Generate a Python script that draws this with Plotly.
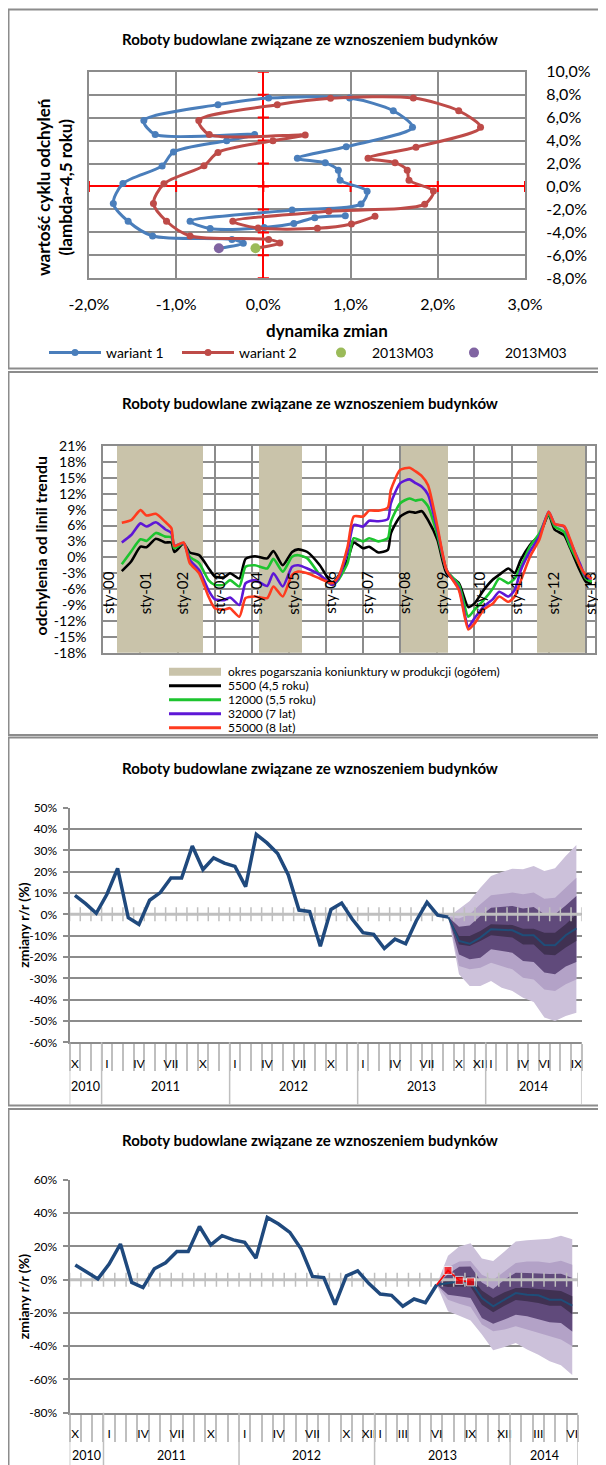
import pandas as pd
import plotly.graph_objects as go

# The page body has an 8 px default margin: the figure is sized so that it fills the
# 606x1465 window exactly, and positions below are given in window pixels.
OFF = 8
W, H = 606 - OFF, 1465 - OFF


def fx(px):
    return (px - OFF) / W


def fy(py):
    return 1 - (py - OFF) / H


FONT = "Lato, 'Open Sans', sans-serif"
GRID = "#8C8C8C"
LIGHT = "#BFBFBF"
TITLE = "Roboty budowlane związane ze wznoszeniem budynków"

# ---------------- Panel 1 : phase plot ----------------
P1_XTICKS = [-2, -1, 0, 1, 2, 3]
P1_YTICKS = [-8, -6, -4, -2, 0, 2, 4, 6, 8, 10]
W1_X = [0.94, 0.59, 0.35, 0.01, -0.61, -0.84, 0.33, 1.12, 1.19, 0.88, 0.86, 0.71, 0.39, 0.95, 1.71, 1.49,
        0.99, 0.06, -0.52, -1.37, -1.24, -0.10, -0.42, -1.03, -1.16, -1.61, -1.72, -1.55, -1.27, -0.36,
        -0.23, -0.51]
W1_Y = [-2.56, -2.72, -3.22, -3.58, -3.66, -3.03, -2.06, -1.52, -0.41, 0.55, 1.41, 2.06, 2.45, 3.46, 5.15,
        6.60, 7.70, 7.70, 7.13, 5.74, 4.53, 4.53, 3.99, 3.00, 1.79, 0.25, -1.48, -3.03, -4.31, -4.61,
        -4.95, -5.38]
W2_X = [1.28, 1.01, 0.62, -0.06, -0.35, 0.75, 1.85, 1.95, 1.67, 1.65, 1.51, 1.20, 1.75, 2.49, 2.24, 1.72,
        0.77, 0.16, -0.74, -0.62, 0.48, 0.11, -0.52, -0.68, -1.14, -1.26, -1.11, -0.84, 0.06, 0.19, -0.09]
W2_Y = [-2.60, -3.27, -3.65, -3.62, -3.03, -2.16, -1.54, -0.40, 0.55, 1.42, 2.07, 2.47, 3.42, 5.15, 6.60,
        7.70, 7.68, 7.12, 5.75, 4.52, 4.48, 3.99, 2.97, 1.81, 0.23, -1.48, -3.03, -4.31, -4.61, -4.93, -5.38]
P1_NAMES = ["wariant 1", "wariant 2", "2013M03", "2013M03"]

# ---------------- Panel 2 : cycle deviations ----------------
P2_DATES = ["2000-07", "2000-10", "2001-01", "2001-03", "2001-06", "2001-09", "2001-11", "2001-12",
            "2002-03", "2002-05", "2002-08", "2002-11", "2003-01", "2003-04", "2003-06", "2003-09",
            "2003-11", "2004-02", "2004-06", "2004-08", "2004-11", "2005-02", "2005-04", "2005-07",
            "2005-11", "2006-03", "2006-05", "2006-08", "2006-10", "2007-01", "2007-03", "2007-06",
            "2007-09", "2007-10", "2008-01", "2008-04", "2008-06", "2008-08", "2008-10", "2009-01",
            "2009-04", "2009-08", "2009-11", "2010-01", "2010-04", "2010-07", "2010-09", "2010-12",
            "2011-02", "2011-04", "2011-07", "2011-10", "2012-01", "2012-03", "2012-06", "2012-08",
            "2012-11", "2013-01", "2013-03"]
P2_BLACK = [-2.6, -0.8, 2.0, 1.9, 3.5, 2.8, 2.8, 1.0, 2.6, 0.9, 0.4, -2.0, -3.6, -3.8, -3.0, -4.0, -0.3,
            0.2, -0.2, 1.2, -1.5, 1.0, 1.5, 1.0, -1.5, -4.9, -3.6, -0.5, 2.8, 1.7, 2.0, 0.9, 1.4, 4.5, 7.7,
            8.6, 8.4, 8.7, 7.0, 3.3, -3.0, -4.9, -9.4, -8.7, -6.2, -4.2, -3.3, -2.1, -3.0, -0.5, 2.3, 4.2,
            8.0, 5.2, 4.2, 1.7, -2.4, -4.6, -4.9]
P2_GREEN = [-1.3, 1.1, 3.4, 3.1, 4.6, 3.9, 3.8, 1.7, 2.7, 0.1, -1.1, -4.3, -5.2, -5.2, -4.3, -5.5, -1.8,
            -1.5, -2.1, -0.3, -2.7, 0.1, 0.4, -0.2, -3.3, -5.2, -4.3, -1.1, 3.6, 3.0, 3.6, 3.0, 3.6, 6.7,
            10.2, 11.1, 10.7, 10.9, 9.6, 4.2, -2.4, -5.2, -11.2, -9.9, -8.1, -5.9, -4.0, -4.9, -4.0, -1.8,
            2.0, 4.5, 8.1, 5.8, 4.8, 2.0, -1.5, -4.0, -4.6]
P2_PURPLE = [2.8, 4.2, 6.4, 5.8, 6.6, 5.3, 4.6, 2.2, 2.7, -0.5, -2.4, -6.2, -7.9, -8.1, -7.6, -9.0, -4.9,
             -4.3, -5.4, -3.0, -5.5, -1.8, -1.5, -2.1, -3.3, -5.2, -4.0, 1.1, 6.1, 5.8, 6.9, 6.8, 7.2, 10.2,
             14.0, 14.7, 14.0, 13.3, 11.8, 5.2, -2.4, -5.9, -13.1, -11.5, -9.3, -7.9, -6.5, -7.4, -6.2,
             -2.5, 1.1, 3.9, 8.6, 6.3, 5.8, 3.0, -1.1, -3.7, -4.0]
P2_RED = [6.5, 7.0, 8.9, 7.9, 8.2, 6.7, 5.5, 2.1, 2.8, -1.1, -3.0, -7.4, -9.6, -9.9, -9.6, -11.2, -7.7,
          -7.4, -7.7, -5.5, -7.4, -3.3, -2.7, -3.0, -4.0, -4.9, -3.7, 2.0, 7.7, 7.7, 8.8, 8.8, 9.4, 12.7,
          16.5, 16.9, 16.2, 15.3, 13.6, 5.8, -2.4, -6.2, -13.6, -12.5, -9.9, -8.7, -7.4, -8.4, -7.4, -4.5,
          0.1, 3.3, 8.6, 6.3, 5.9, 3.3, -1.5, -3.3, -4.0]
P2_NAMES = ["5500 (4,5 roku)", "12000 (5,5 roku)", "32000 (7 lat)", "55000 (8 lat)"]
P2_COLORS = ["#000000", "#1DC42F", "#5E17D6", "#FF3B1F"]
BAND_NAME = "okres pogarszania koniunktury w produkcji (ogółem)"
BAND_START = ["2000-05-15", "2004-03-15", "2008-01-15", "2011-09-15"]
BAND_END = ["2002-09-15", "2005-05-15", "2009-04-15", "2012-12-31"]
P2_YEARS = list(range(2000, 2014))
P2_TICKLABELS = ["sty-%02d" % (y % 100) for y in P2_YEARS]
P2_YTICKS = list(range(-18, 22, 3))

# ---------------- Panels 3 & 4 : fan charts ----------------
ROMAN = ["I", "II", "III", "IV", "V", "VI", "VII", "VIII", "IX", "X", "XI", "XII"]
START_YEAR, START_MONTH = 2010, 10
ACTUAL = [8.9, 5.0, 0.5, 9.4, 21.5, -1.6, -4.7, 6.6, 10.2, 17.0, 17.0, 32.0, 21.0, 26.5, 24.0, 22.5, 13.0,
          37.5, 33.5, 28.5, 18.5, 2.0, 1.3, -15.0, 2.3, 5.3, -2.3, -8.6, -9.4, -16.0, -11.6, -13.8, -3.0,
          5.6, -0.4, -1.3]

P3_N = 48
P3_TICK_IDX = [0, 3, 6, 9, 12, 15, 18, 21, 24, 27, 30, 33, 36, 38, 39, 42, 44, 47]
P3_FAN_START = 35
P3_CENTER = [-1.3, -12.5, -13.8, -10.9, -7.0, -7.3, -7.5, -9.8, -9.8, -14.4, -14.5, -9.8, -6.6]
P3_U3 = [-1.3, 2.3, 6.3, 12.5, 18.0, 19.8, 21.4, 21.1, 22.7, 20.3, 21.6, 27.3, 32.5]
P3_U2 = [-1.3, -2.0, 0.0, 4.7, 8.9, 9.7, 10.2, 9.4, 10.2, 7.3, 7.8, 12.5, 17.2]
P3_U1 = [-1.3, -5.8, -5.2, -0.8, 3.1, 3.6, 3.9, 2.7, 3.4, 0.0, 0.0, 4.2, 8.6]
P3_U0 = [-1.3, -10.2, -10.2, -7.8, -4.7, -4.7, -5.0, -6.7, -6.7, -8.6, -8.6, -4.7, 0.0]
P3_L0 = [-1.3, -14.1, -14.8, -12.5, -9.8, -10.2, -10.9, -14.1, -14.1, -18.8, -19.2, -15.6, -12.5]
P3_L1 = [-1.3, -18.8, -21.1, -20.3, -16.4, -17.2, -18.0, -21.9, -22.3, -27.3, -28.1, -24.5, -22.3]
P3_L2 = [-1.3, -24.2, -25.8, -25.0, -22.7, -24.2, -25.8, -29.7, -30.5, -35.2, -35.9, -32.8, -30.5]
P3_L3 = [-1.3, -28.1, -33.6, -33.6, -31.3, -34.4, -35.9, -39.1, -41.1, -48.4, -50.0, -47.7, -46.1]
P3_YTICKS = list(range(-60, 51, 10))

P4_N = 45
P4_TICK_IDX = [0, 3, 6, 9, 12, 15, 18, 21, 24, 26, 27, 29, 32, 35, 38, 41, 44]
P4_FAN_START = 32
P4_CENTER = [-3.0, -2.0, -1.0, -1.0, -11.0, -16.0, -12.0, -8.0, -9.0, -9.4, -12.0, -12.0, -15.6]
P4_U3 = [-3.0, 14.5, 20.0, 22.0, 12.7, 11.3, 17.0, 23.0, 23.8, 24.4, 24.7, 26.4, 24.4]
P4_U2 = [-3.0, 7.5, 11.0, 11.2, 3.0, 0.0, 5.0, 10.0, 11.0, 11.0, 10.0, 11.4, 9.0]
P4_U1 = [-3.0, 3.4, 7.8, 8.0, -1.6, -5.6, 0.0, 4.2, 4.0, 3.6, 3.4, 3.6, 1.0]
P4_U0 = [-3.0, 0.0, 2.0, 2.0, -6.5, -11.0, -7.5, -5.0, -5.0, -5.5, -6.4, -6.8, -10.0]
P4_L0 = [-3.0, -4.4, -4.0, -4.4, -15.0, -19.5, -15.6, -12.2, -13.0, -14.0, -15.6, -15.6, -20.7]
P4_L1 = [-3.0, -9.0, -10.0, -11.0, -23.0, -26.5, -24.0, -21.0, -22.0, -23.6, -25.6, -26.0, -31.2]
P4_L2 = [-3.0, -12.0, -14.4, -16.4, -27.0, -31.0, -30.0, -28.0, -30.0, -32.0, -34.0, -36.0, -40.0]
P4_L3 = [-3.0, -19.0, -21.6, -24.5, -33.0, -42.4, -40.5, -38.0, -42.0, -45.2, -49.0, -51.5, -57.3]
P4_YTICKS = list(range(-80, 61, 20))

FAN_COLORS = ["#CCC1DA", "#B3A2C7", "#604A7B", "#403152"]


def ym(i):
    k = START_MONTH - 1 + i
    return START_YEAR + k // 12, k % 12 + 1


def pct(v, dec=0):
    s = ("%." + str(dec) + "f") % v
    return s.replace(".", ",") + "%"


fig = go.Figure()
annotations = []
shapes = []

# ======== Panel 1 ========
fig.add_trace(go.Scatter(x=[0] * len(P1_YTICKS), y=P1_YTICKS, mode="markers", xaxis="x", yaxis="y",
                         marker=dict(symbol="line-ew", size=8, line=dict(color="#FF0000", width=2)),
                         showlegend=False, hoverinfo="skip"))
fig.add_trace(go.Scatter(x=P1_XTICKS, y=[0] * len(P1_XTICKS), mode="markers", xaxis="x", yaxis="y",
                         marker=dict(symbol="line-ns", size=8, line=dict(color="#FF0000", width=2)),
                         showlegend=False, hoverinfo="skip"))
fig.add_trace(go.Scatter(x=W1_X, y=W1_Y, name=P1_NAMES[0], mode="lines+markers", xaxis="x", yaxis="y",
                         line=dict(color="#4A7EBB", width=3, shape="spline", smoothing=0.8),
                         marker=dict(size=7, color="#4A7EBB"), legend="legend"))
fig.add_trace(go.Scatter(x=W2_X, y=W2_Y, name=P1_NAMES[1], mode="lines+markers", xaxis="x", yaxis="y",
                         line=dict(color="#BE4B48", width=3, shape="spline", smoothing=0.8),
                         marker=dict(size=7, color="#BE4B48"), legend="legend"))
fig.add_trace(go.Scatter(x=W2_X[-1:], y=W2_Y[-1:], name=P1_NAMES[2], mode="markers", xaxis="x", yaxis="y",
                         marker=dict(size=10, color="#9BBB59"), legend="legend"))
fig.add_trace(go.Scatter(x=W1_X[-1:], y=W1_Y[-1:], name=P1_NAMES[3], mode="markers", xaxis="x", yaxis="y",
                         marker=dict(size=10, color="#8064A2"), legend="legend"))

# ======== Panel 2 ========
starts = pd.to_datetime(BAND_START)
ends = pd.to_datetime(BAND_END)
mids = [s + (e - s) / 2 for s, e in zip(starts, ends)]
widths = [(e - s).total_seconds() * 1000 for s, e in zip(starts, ends)]
P2_RANGE = [P2_YTICKS[0], P2_YTICKS[-1]]
fig.add_trace(go.Bar(x=mids, y=[P2_RANGE[1] - P2_RANGE[0]] * len(mids), base=P2_RANGE[0], width=widths,
                     marker=dict(color="#C9C3AA", line=dict(width=0)), xaxis="x2", yaxis="y2",
                     name=BAND_NAME, showlegend=False, hoverinfo="skip"))
for vals, name, col in zip([P2_BLACK, P2_GREEN, P2_PURPLE, P2_RED], P2_NAMES, P2_COLORS):
    fig.add_trace(go.Scatter(x=P2_DATES, y=vals, name=name, mode="lines", xaxis="x2", yaxis="y2",
                             line=dict(color=col, width=2.6, shape="spline", smoothing=0.6),
                             showlegend=False))
for yr, lab in zip(P2_YEARS, P2_TICKLABELS):
    annotations.append(dict(x="%d-01-01" % yr, y=0, xref="x2", yref="y2", text=lab, showarrow=False,
                            textangle=-90, xanchor="center", yanchor="top", yshift=-12, xshift=4,
                            font=dict(size=15, color="#000000")))
# manual legend for panel 2
leg_rows = [BAND_NAME] + P2_NAMES
for k, lab in enumerate(leg_rows):
    yc = 671.7 + k * 14.0
    if k == 0:
        shapes.append(dict(type="rect", xref="paper", yref="paper", x0=fx(169), x1=fx(221),
                           y0=fy(yc + 4), y1=fy(yc - 4), fillcolor="#C9C3AA", line=dict(width=0)))
    else:
        shapes.append(dict(type="line", xref="paper", yref="paper", x0=fx(169), x1=fx(221),
                           y0=fy(yc), y1=fy(yc), line=dict(color=P2_COLORS[k - 1], width=3)))
    annotations.append(dict(x=fx(226), y=fy(yc), xref="paper", yref="paper", text=lab, showarrow=False,
                            xanchor="left", yanchor="middle", font=dict(size=12, color="#000000")))


# ======== Panels 3 & 4 ========
def fan_panel(xa, ya, n, fan_start, center, bands, actual_n, realized):
    xs = list(range(fan_start, fan_start + len(center)))
    for (lo, hi), col in zip(bands, FAN_COLORS):
        fig.add_trace(go.Scatter(x=xs, y=lo, mode="lines", line=dict(width=0, color=col), xaxis=xa, yaxis=ya,
                                 showlegend=False, hoverinfo="skip"))
        fig.add_trace(go.Scatter(x=xs, y=hi, mode="lines", line=dict(width=0, color=col), fill="tonexty",
                                 fillcolor=col, xaxis=xa, yaxis=ya, showlegend=False, hoverinfo="skip"))
    # category axis at 0 (light line with ticks)
    fig.add_trace(go.Scatter(x=[-0.5, n - 0.5], y=[0, 0], mode="lines", line=dict(color=LIGHT, width=3),
                             xaxis=xa, yaxis=ya, showlegend=False, hoverinfo="skip"))
    fig.add_trace(go.Scatter(x=[i - 0.5 for i in range(n + 1)], y=[0] * (n + 1), mode="markers",
                             marker=dict(symbol="line-ns", size=10, line=dict(color=LIGHT, width=1.5)),
                             xaxis=xa, yaxis=ya, showlegend=False, hoverinfo="skip"))
    fig.add_trace(go.Scatter(x=xs, y=center, mode="lines", line=dict(color="#1F4E79", width=2),
                             xaxis=xa, yaxis=ya, showlegend=False))
    fig.add_trace(go.Scatter(x=list(range(actual_n)), y=ACTUAL[:actual_n], mode="lines",
                             line=dict(color="#1F497D", width=3.5), xaxis=xa, yaxis=ya, showlegend=False))
    if realized:
        rx = list(range(actual_n - 1, len(ACTUAL)))
        ry = ACTUAL[actual_n - 1:]
        fig.add_trace(go.Scatter(x=rx, y=ry, mode="lines+markers", line=dict(color="#FF0000", width=1.5),
                                 marker=dict(symbol="square", color="#FF0000", size=[0] + [8] * (len(rx) - 1)),
                                 xaxis=xa, yaxis=ya, showlegend=False))


fan_panel("x3", "y3", P3_N, P3_FAN_START, P3_CENTER,
          [(P3_L3, P3_U3), (P3_L2, P3_U2), (P3_L1, P3_U1), (P3_L0, P3_U0)], len(ACTUAL), False)
fan_panel("x4", "y4", P4_N, P4_FAN_START, P4_CENTER,
          [(P4_L3, P4_U3), (P4_L2, P4_U2), (P4_L1, P4_U1), (P4_L0, P4_U0)], P4_FAN_START + 1, True)


def year_decor(xref, n, y_axis_px, y_year_px, y_end_px):
    groups = []
    for i in range(n):
        y, _ = ym(i)
        if not groups or groups[-1][0] != y:
            groups.append([y, i, i])
        else:
            groups[-1][2] = i
    bounds = [g[1] - 0.5 for g in groups] + [n - 0.5]
    for b in bounds:
        shapes.append(dict(type="line", xref=xref, yref="paper", x0=b, x1=b, y0=fy(y_axis_px),
                           y1=fy(y_end_px), line=dict(color=LIGHT, width=1.5)))
    for y, a, b in groups:
        annotations.append(dict(x=(a + b) / 2, y=fy(y_year_px), xref=xref, yref="paper", text=str(y),
                                showarrow=False, xanchor="center", yanchor="middle",
                                font=dict(size=12.5, color="#000000")))


year_decor("x3", P3_N, 1042.3, 1086.7, 1105)
year_decor("x4", P4_N, 1412.7, 1455.5, 1466)

# ======== titles and axis titles ========
for yc in [39.3, 403.3, 768.3, 1140]:
    annotations.append(dict(x=fx(310), y=fy(yc), xref="paper", yref="paper", text="<b>%s</b>" % TITLE,
                            showarrow=False, xanchor="center", yanchor="middle",
                            font=dict(size=15, color="#000000")))
annotations.append(dict(x=fx(327), y=fy(330), xref="paper", yref="paper", text="<b>dynamika zmian</b>",
                        showarrow=False, xanchor="center", yanchor="middle", font=dict(size=17)))
annotations.append(dict(x=fx(55), y=fy(188), xref="paper", yref="paper",
                        text="<b>wartość cyklu odchyleń<br>(lambda~4,5 roku)</b>", textangle=-90,
                        showarrow=False, xanchor="center", yanchor="middle", font=dict(size=17)))
annotations.append(dict(x=fx(40.6), y=fy(545.8), xref="paper", yref="paper",
                        text="<b>odchylenia od linii trendu</b>", textangle=-90,
                        showarrow=False, xanchor="center", yanchor="middle", font=dict(size=16)))
for yc in [925.5, 1297]:
    annotations.append(dict(x=fx(23.2), y=fy(yc), xref="paper", yref="paper", text="<b>zmiany r/r (%)</b>",
                            textangle=-90, showarrow=False, xanchor="center", yanchor="middle",
                            font=dict(size=14)))

# panel frames
for top, bot in [(9.5, 368.5), (372, 735), (737.5, 1105.5), (1109, 1470)]:
    shapes.append(dict(type="rect", xref="paper", yref="paper", x0=fx(8.5), x1=fx(615), y0=fy(bot),
                       y1=fy(top), line=dict(color="#8C8C8C", width=2), layer="below"))


def cat_ticks(idx):
    return [ROMAN[ym(i)[1] - 1] for i in idx]


fig.update_layout(
    template="none",
    width=W, height=H, margin=dict(l=0, r=0, t=0, b=0, autoexpand=False),
    paper_bgcolor="white", plot_bgcolor="rgba(0,0,0,0)",
    font=dict(family=FONT, color="#000000", size=12),
    annotations=annotations, shapes=shapes,
    bargap=0, showlegend=True,
    legend=dict(orientation="h", x=fx(44), y=fy(353), xanchor="left", yanchor="middle",
                itemwidth=52, entrywidth=66, font=dict(size=14), bgcolor="rgba(0,0,0,0)",
                traceorder="normal", borderwidth=0),
    # panel 1
    xaxis=dict(domain=[fx(88.9), fx(525)], range=[-2, 3], tickvals=P1_XTICKS,
               ticktext=[pct(v, 1) for v in P1_XTICKS], tickfont=dict(size=16), ticks="", tickangle=0,
               ticklabelstandoff=10, showgrid=True, gridcolor=GRID, gridwidth=2, zeroline=True,
               zerolinecolor="#FF0000", zerolinewidth=2, showline=True, mirror=True, linecolor=GRID,
               linewidth=2, anchor="y", automargin=False),
    yaxis=dict(domain=[fy(278.3), fy(71.7)], range=[-8, 10], tickvals=P1_YTICKS,
               ticktext=[pct(v, 1) for v in P1_YTICKS], tickfont=dict(size=16), ticks="", side="right",
               ticklabelstandoff=16, showgrid=True, gridcolor=GRID, gridwidth=2, zeroline=True,
               zerolinecolor="#FF0000", zerolinewidth=2, showline=True, mirror=True, linecolor=GRID,
               linewidth=2, anchor="x", automargin=False),
    # panel 2
    xaxis2=dict(domain=[fx(103.3), fx(595)], type="date", range=["2000-01-01", "2013-04-01"],
                tick0="2000-01-01", dtick="M12", showticklabels=False, ticks="", showgrid=True,
                gridcolor=GRID, gridwidth=2, zeroline=False, showline=True, mirror=True, linecolor=GRID,
                linewidth=2, anchor="y2", automargin=False),
    yaxis2=dict(domain=[fy(652.7), fy(446)], range=P2_RANGE, tickvals=P2_YTICKS,
                ticktext=["%d%%" % v for v in P2_YTICKS], tickfont=dict(size=14), ticks="",
                ticklabelstandoff=12, showgrid=True, gridcolor=GRID, gridwidth=2, zeroline=False,
                showline=True, mirror=True, linecolor=GRID, linewidth=2, anchor="x2", automargin=False),
    # panel 3
    xaxis3=dict(domain=[fx(69.6), fx(581.7)], range=[-0.5, P3_N - 0.5], tickmode="array",
                tickvals=P3_TICK_IDX, ticktext=cat_ticks(P3_TICK_IDX), ticks="", tickfont=dict(size=12),
                tickangle=0, ticklabelstandoff=9, showgrid=False, zeroline=False, showline=True,
                linecolor=GRID, linewidth=2, anchor="y3", automargin=False,
                minor=dict(tickmode="array", tickvals=[i - 0.5 for i in range(P3_N + 1)], ticks="outside",
                           ticklen=27, tickcolor=LIGHT, tickwidth=1.5, showgrid=False)),
    yaxis3=dict(domain=[fy(1042.3), fy(807.7)], range=[P3_YTICKS[0], P3_YTICKS[-1]], tickvals=P3_YTICKS,
                ticktext=["%d%%" % v for v in P3_YTICKS], tickfont=dict(size=12), ticks="outside",
                ticklen=5, tickcolor=GRID, tickwidth=2, ticklabelstandoff=3, showgrid=True, gridcolor=GRID,
                gridwidth=2, zeroline=False, showline=True, linecolor=GRID, linewidth=2, anchor="x3",
                automargin=False),
    # panel 4
    xaxis4=dict(domain=[fx(69.6), fx(577.9)], range=[-0.5, P4_N - 0.5], tickmode="array",
                tickvals=P4_TICK_IDX, ticktext=cat_ticks(P4_TICK_IDX), ticks="", tickfont=dict(size=12),
                tickangle=0, ticklabelstandoff=9, showgrid=False, zeroline=False, showline=True,
                linecolor=GRID, linewidth=2, anchor="y4", automargin=False,
                minor=dict(tickmode="array", tickvals=[i - 0.5 for i in range(P4_N + 1)], ticks="outside",
                           ticklen=27, tickcolor=LIGHT, tickwidth=1.5, showgrid=False)),
    yaxis4=dict(domain=[fy(1412.7), fy(1180)], range=[P4_YTICKS[0], P4_YTICKS[-1]], tickvals=P4_YTICKS,
                ticktext=["%d%%" % v for v in P4_YTICKS], tickfont=dict(size=12), ticks="outside",
                ticklen=5, tickcolor=GRID, tickwidth=2, ticklabelstandoff=3, showgrid=True, gridcolor=GRID,
                gridwidth=2, zeroline=False, showline=True, linecolor=GRID, linewidth=2, anchor="x4",
                automargin=False),
)

fig.write_html("out.html")
